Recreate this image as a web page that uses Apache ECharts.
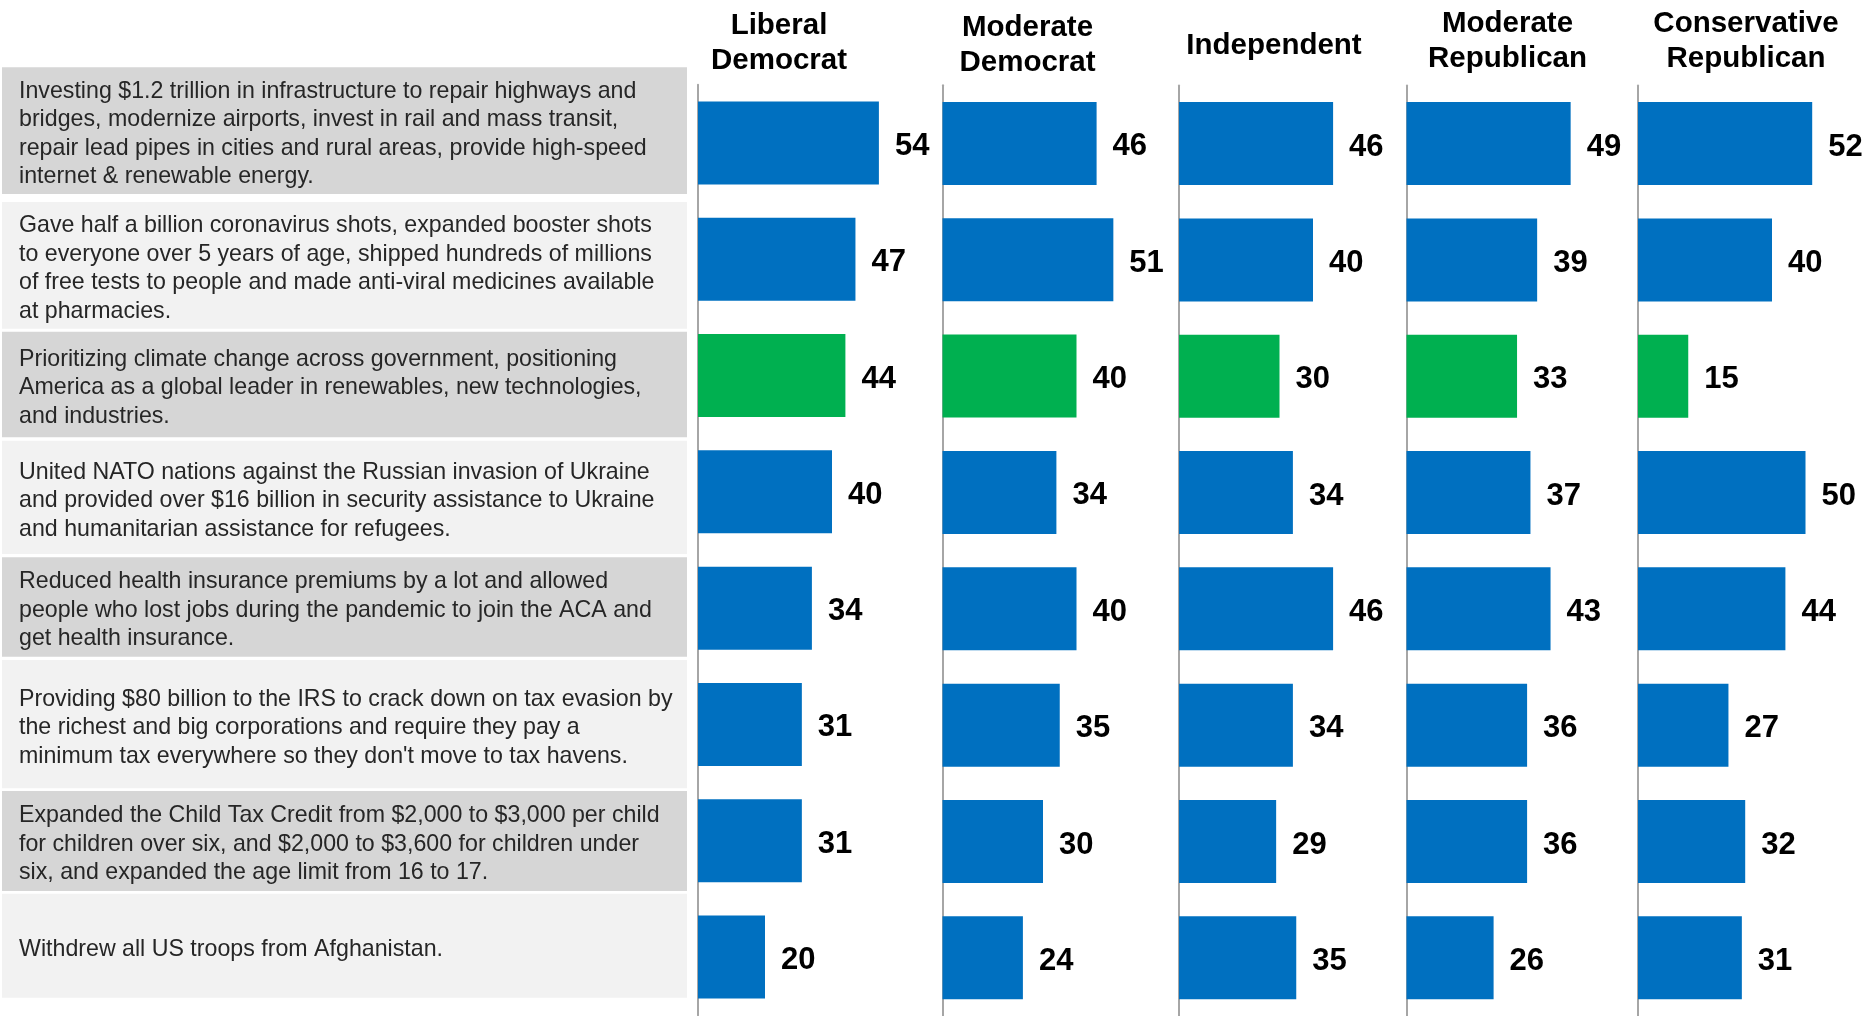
<!DOCTYPE html>
<html>
<head>
<meta charset="utf-8">
<script src="https://cdn.jsdelivr.net/npm/echarts@6/dist/echarts.min.js"></script>
<style>
html,body{margin:0;padding:0;background:#fff;}
#chart{width:1864px;height:1016px;}
</style>
</head>
<body>
<div id="chart"></div>
<script>
// ---------- data ----------
var statements = [
  "Investing $1.2 trillion in infrastructure to repair highways and\nbridges, modernize airports, invest in rail and mass transit,\nrepair lead pipes in cities and rural areas, provide high-speed\ninternet & renewable energy.",
  "Gave half a billion coronavirus shots, expanded booster shots\nto everyone over 5 years of age, shipped hundreds of millions\nof free tests to people and made anti-viral medicines available\nat pharmacies.",
  "Prioritizing climate change across government, positioning\nAmerica as a global leader in renewables, new technologies,\nand industries.",
  "United NATO nations against the Russian invasion of Ukraine\nand provided over $16 billion in security assistance to Ukraine\nand humanitarian assistance for refugees.",
  "Reduced health insurance premiums by a lot and allowed\npeople who lost jobs during the pandemic to join the ACA and\nget health insurance.",
  "Providing $80 billion to the IRS to crack down on tax evasion by\nthe richest and big corporations and require they pay a\nminimum tax everywhere so they don't move to tax havens.",
  "Expanded the Child Tax Credit from $2,000 to $3,000 per child\nfor children over six, and $2,000 to $3,600 for children under\nsix, and expanded the age limit from 16 to 17.",
  "Withdrew all US troops from Afghanistan."
];
var groups = ["Liberal\nDemocrat", "Moderate\nDemocrat", "Independent", "Moderate\nRepublican", "Conservative\nRepublican"];
var liberalDemocrat        = [54, 47, 44, 40, 34, 31, 31, 20];
var moderateDemocrat       = [46, 51, 40, 34, 40, 35, 30, 24];
var independent            = [46, 40, 30, 34, 46, 34, 29, 35];
var moderateRepublican     = [49, 39, 33, 37, 43, 36, 36, 26];
var conservativeRepublican = [52, 40, 15, 50, 44, 27, 32, 31];
var highlightIndex = 2; // climate change row shown in green

// ---------- layout / style ----------
var seriesValues = [liberalDemocrat, moderateDemocrat, independent, moderateRepublican, conservativeRepublican];
var panelLeft = [698, 942.5, 1179, 1406.5, 1638];
var panelTop = [84.8, 85.2, 85.4, 85.4, 85.4];
var panelHeight = [930.4, 931.6, 934.2, 934.2, 934.2];
var headerCenter = [779, 1027.5, 1274, 1507.5, 1746];
var headerTop = [8.5, 10, 28, 6.5, 6.5];
var rowTop = [67.3, 202, 331.7, 440.7, 557.3, 660, 791, 893.7];
var rowBottom = [194, 328.7, 437.3, 554, 656.7, 788.3, 891, 997.7];
var BLUE = '#0070c0', GREEN = '#00b050';
var FONT = '"Liberation Sans", Arial, sans-serif';
var AXIS_MAX = 60, PANEL_WIDTH = 201; // 3.35 px per point

var grids = [], xAxes = [], yAxes = [], series = [], titles = [];
seriesValues.forEach(function (vals, k) {
  grids.push({left: panelLeft[k], top: panelTop[k], width: PANEL_WIDTH, height: panelHeight[k], containLabel: false});
  xAxes.push({type: 'value', gridIndex: k, min: 0, max: AXIS_MAX, show: false});
  yAxes.push({
    type: 'category', gridIndex: k, inverse: true,
    data: statements.map(function (s, i) { return 'r' + i; }),
    axisLine: {show: true, lineStyle: {color: '#a6a6a6', width: 2}},
    axisTick: {show: false}, axisLabel: {show: false}, splitLine: {show: false}
  });
  series.push({
    type: 'bar', xAxisIndex: k, yAxisIndex: k, barWidth: 83,
    itemStyle: {color: BLUE},
    data: vals.map(function (v, i) {
      return i === highlightIndex ? {value: v, itemStyle: {color: GREEN}} : v;
    }),
    label: {show: true, position: 'right', distance: 16, offset: [0, 3.5], color: '#000',
      fontFamily: FONT, fontWeight: 'bold', fontSize: 31},
    silent: true, animation: false
  });
  titles.push({
    text: groups[k], left: headerCenter[k], top: headerTop[k], textAlign: 'center', padding: 0,
    textStyle: {fontFamily: FONT, fontWeight: 'bold', fontSize: 29.5, lineHeight: 35, color: '#000'}
  });
});

var graphics = [];
statements.forEach(function (s, i) {
  graphics.push({type: 'rect', silent: true,
    shape: {x: 2, y: rowTop[i], width: 685, height: rowBottom[i] - rowTop[i]},
    style: {fill: i % 2 === 0 ? '#d6d6d6' : '#f2f2f2'}});
  graphics.push({type: 'text', silent: true, x: 19, y: (rowTop[i] + rowBottom[i]) / 2 + 3.5,
    style: {text: s, fontFamily: FONT, fontSize: 23.2, lineHeight: 28.5, fill: '#262626',
      verticalAlign: 'middle', align: 'left'}});
});

var chart = echarts.init(document.getElementById('chart'), null, {renderer: 'canvas'});
chart.setOption({
  animation: false,
  backgroundColor: '#ffffff',
  title: titles,
  grid: grids,
  xAxis: xAxes,
  yAxis: yAxes,
  series: series,
  graphic: graphics
});
</script>
</body>
</html>
